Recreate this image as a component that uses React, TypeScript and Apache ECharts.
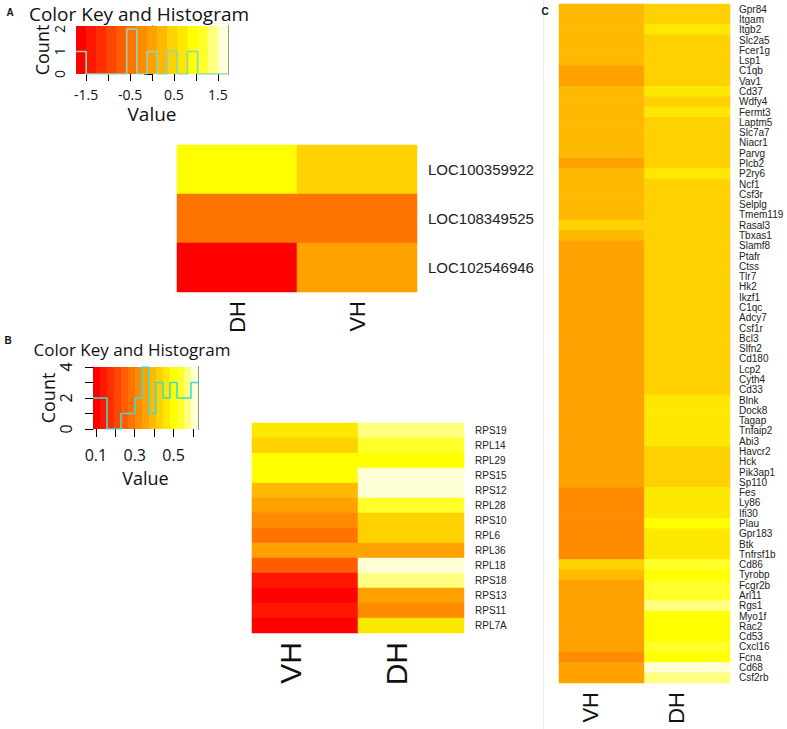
import React, { useEffect, useRef } from "react";
import * as echarts from "echarts";

// 15-step heat colour scale (red -> yellow -> pale)
const HEAT = ["#FF0000", "#FF1700", "#FF2E00", "#FF4600", "#FF5D00", "#FF7400", "#FF8B00", "#FFA200", "#FFB900", "#FFD100", "#FFE800", "#FFFF00", "#FFFF2A", "#FFFF80", "#FFFFD5"];

// Panel A
const aRows = ["LOC100359922", "LOC108349525", "LOC102546946"];
const aCols = ["DH", "VH"];
const aDH = [0.9, -0.45, -1.62];
const aVH = [0.45, -0.47, 0.0];
const aMin = -1.73;
const aMax = 1.73;
const aTicks = [-1.5, -1, -0.5, 0, 0.5, 1, 1.5];
const aTickLabels = [-1.5, -0.5, 0.5, 1.5];
const aCountTicks = [0, 0.5, 1, 1.5, 2];
const aCountLabels = [0, 1, 2];

// Panel B
const bRows = ["RPS19", "RPL14", "RPL29", "RPS15", "RPS12", "RPL28", "RPS10", "RPL6", "RPL36", "RPL18", "RPS18", "RPS13", "RPS11", "RPL7A"];
const bCols = ["VH", "DH"];
const bVH = [0.464, 0.428, 0.5, 0.498, 0.392, 0.355, 0.32, 0.283, 0.358, 0.248, 0.138, 0.095, 0.14, 0.1];
const bDH = [0.572, 0.536, 0.505, 0.61, 0.605, 0.54, 0.43, 0.425, 0.352, 0.615, 0.57, 0.355, 0.32, 0.465];
const bMin = 0.085;
const bMax = 0.626;
const bTicks = [0.1, 0.2, 0.3, 0.4, 0.5, 0.6];
const bTickLabels = [0.1, 0.3, 0.5];
const bCountTicks = [0, 1, 2, 3, 4];
const bCountLabels = [0, 2, 4];

// Panel C
const cRows = ["Gpr84", "Itgam", "Itgb2", "Slc2a5", "Fcer1g", "Lsp1", "C1qb", "Vav1", "Cd37", "Wdfy4", "Fermt3", "Laptm5", "Slc7a7", "Niacr1", "Parvg", "Plcb2", "P2ry6", "Ncf1", "Csf3r", "Selplg", "Tmem119", "Rasal3", "Tbxas1", "Slamf8", "Ptafr", "Ctss", "Tlr7", "Hk2", "Ikzf1", "C1qc", "Adcy7", "Csf1r", "Bcl3", "Slfn2", "Cd180", "Lcp2", "Cyth4", "Cd33", "Blnk", "Dock8", "Tagap", "Tnfaip2", "Abi3", "Havcr2", "Hck", "Pik3ap1", "Sp110", "Fes", "Ly86", "Ifi30", "Plau", "Gpr183", "Btk", "Tnfrsf1b", "Cd86", "Tyrobp", "Fcgr2b", "Arl11", "Rgs1", "Myo1f", "Rac2", "Cd53", "Cxcl16", "Fcna", "Cd68", "Csf2rb"];
const cCols = ["VH", "DH"];
const cVH = [
  0.84, 0.85, 0.84, 0.86, 0.85, 0.84, 0.74, 0.73, 0.85, 0.84, 0.85, 0.84, 0.86, 0.85, 0.84, 0.72, 0.85,
  0.84, 0.85, 0.84, 0.86, 0.93, 0.84, 0.75, 0.74, 0.75, 0.73, 0.74, 0.75, 0.74, 0.76, 0.74, 0.75, 0.74,
  0.75, 0.74, 0.73, 0.75, 0.74, 0.75, 0.74, 0.76, 0.74, 0.75, 0.74, 0.73, 0.75, 0.65, 0.64, 0.65, 0.64,
  0.66, 0.65, 0.64, 0.93, 0.84, 0.75, 0.76, 0.77, 0.74, 0.73, 0.74, 0.75, 0.64, 0.74, 0.75,
];
const cDH = [
  0.94, 0.95, 1.04, 0.94, 0.95, 0.94, 0.95, 0.94, 1.05, 0.94, 1.04, 0.95, 0.94, 0.95, 0.94, 0.95, 1.04,
  0.94, 0.95, 0.94, 0.95, 0.94, 0.95, 0.94, 0.95, 0.94, 0.95, 0.94, 0.95, 0.94, 0.95, 0.94, 0.95, 0.94,
  0.95, 0.94, 0.95, 0.94, 1.05, 1.04, 1.05, 1.04, 1.05, 0.94, 0.95, 0.94, 0.95, 1.04, 1.05, 1.04, 1.15,
  1.04, 1.05, 1.04, 1.25, 1.14, 1.24, 1.25, 1.35, 1.14, 1.15, 1.14, 1.24, 1.15, 1.45, 1.34,
];
const cMin = 0;
const cMax = 1.5;

const NBINS = 15;
const FONT_KEY = "Open Sans";
const FONT_LAB = "Liberation Sans";

function breaks(min: number, max: number) {
  const w = (max - min) / NBINS;
  return Array.from({ length: NBINS + 1 }, (_, i) => min + i * w);
}
function pieces(min: number, max: number) {
  const b = breaks(min, max);
  return HEAT.map((c, i) => {
    const p: any = { color: c };
    if (i > 0) p.gte = b[i];
    if (i < NBINS - 1) p.lt = b[i + 1];
    return p;
  });
}
function histLine(values: number[], min: number, max: number) {
  const b = breaks(min, max);
  const counts = new Array(NBINS).fill(0);
  values.forEach((v) => {
    let k = Math.floor(((v - min) / (max - min)) * NBINS);
    k = Math.max(0, Math.min(NBINS - 1, k));
    counts[k]++;
  });
  const pts = counts.map((c, i) => [b[i], c]);
  pts.push([max, counts[NBINS - 1]]);
  return pts;
}
function bands(min: number, max: number) {
  const b = breaks(min, max);
  return HEAT.map((_, i) => [b[i], b[i + 1], i]);
}
function cells(cols: number[][]) {
  const out: number[][] = [];
  cols.forEach((col, x) => col.forEach((v, y) => out.push([x, y, v])));
  return out;
}
const bandRender = (params: any, api: any) => {
  const p0 = api.coord([api.value(0), 0]);
  const p1 = api.coord([api.value(1), 0]);
  const cs = params.coordSys;
  return {
    type: "rect",
    shape: { x: p0[0], y: cs.y, width: p1[0] - p0[0] + 0.6, height: cs.height },
    style: { fill: HEAT[api.value(2)] },
  };
};

const keyAxisText = { color: "#111", fontFamily: FONT_KEY };

export default function App() {
  const ref = useRef<HTMLDivElement>(null);
  useEffect(() => {
    if (!ref.current) return;
    const chart = echarts.init(ref.current, undefined, { renderer: "svg" });
    const blackLine = { show: true, lineStyle: { color: "#000", width: 1 } };
    const catX = (gridIndex: number, data: string[], size: number, va: string) => ({
      type: "category", gridIndex, data,
      axisLine: { show: false }, axisTick: { show: false }, splitLine: { show: false },
      axisLabel: { rotate: 90, interval: 0, fontSize: size, color: "#111", fontFamily: FONT_LAB, margin: 9, verticalAlign: va },
    });
    const catY = (gridIndex: number, data: string[], size: number, margin: number) => ({
      type: "category", gridIndex, data, inverse: true, position: "right",
      axisLine: { show: false }, axisTick: { show: false }, splitLine: { show: false },
      axisLabel: { interval: 0, fontSize: size, color: "#222", fontFamily: FONT_LAB, margin },
    });
    const rightLine = (gridIndex: number, max: number) => ({
      type: "value", gridIndex, min: 0, max, position: "right",
      axisLine: blackLine, axisTick: { show: false }, axisLabel: { show: false }, splitLine: { show: false },
    });
    const option: any = {
      animation: false,
      backgroundColor: "#fff",
      grid: [
        { left: 76, top: 26, width: 152, height: 48 },
        { left: 177, top: 145, width: 240, height: 147 },
        { left: 93, top: 367, width: 105, height: 62 },
        { left: 252, top: 423, width: 212, height: 210 },
        { left: 559, top: 4, width: 171, height: 679 },
      ],
      xAxis: [
        {
          type: "value", gridIndex: 0, min: aMin, max: aMax,
          axisLine: { show: false }, splitLine: { show: false },
          axisTick: { show: true, customValues: aTicks, length: 7, lineStyle: { color: "#000" } },
          axisLabel: { customValues: aTickLabels, fontSize: 14, margin: 13, ...keyAxisText },
          name: "Value", nameLocation: "middle", nameGap: 30,
          nameTextStyle: { fontSize: 19, ...keyAxisText },
        },
        catX(1, aCols, 22, "middle"),
        {
          type: "value", gridIndex: 2, min: bMin, max: bMax,
          axisLine: { show: false }, splitLine: { show: false },
          axisTick: { show: true, customValues: bTicks, length: 8, lineStyle: { color: "#000" } },
          axisLabel: { customValues: bTickLabels, fontSize: 16, margin: 18, ...keyAxisText },
          name: "Value", nameLocation: "middle", nameGap: 40,
          nameTextStyle: { fontSize: 18, ...keyAxisText },
        },
        catX(3, bCols, 30, "bottom"),
        catX(4, cCols, 22, "bottom"),
      ],
      yAxis: [
        {
          type: "value", gridIndex: 0, min: 0, max: 2.13,
          axisLine: blackLine, splitLine: { show: false },
          axisTick: { show: true, customValues: aCountTicks, length: 8, lineStyle: { color: "#000" } },
          axisLabel: { customValues: aCountLabels, rotate: 90, fontSize: 14, margin: 10, ...keyAxisText },
          name: "Count", nameLocation: "middle", nameGap: 20, nameRotate: 90,
          nameTextStyle: { fontSize: 18, ...keyAxisText },
        },
        rightLine(0, 2.13),
        catY(1, aRows, 15, 11),
        {
          type: "value", gridIndex: 2, min: 0, max: 4,
          axisLine: blackLine, splitLine: { show: false },
          axisTick: { show: true, customValues: bCountTicks, length: 8, lineStyle: { color: "#000" } },
          axisLabel: { customValues: bCountLabels, rotate: 90, fontSize: 16, margin: 19, ...keyAxisText },
          name: "Count", nameLocation: "middle", nameGap: 34, nameRotate: 90,
          nameTextStyle: { fontSize: 18, ...keyAxisText },
        },
        rightLine(2, 4),
        catY(3, bRows, 10, 11),
        catY(4, cRows, 10, 9),
      ],
      visualMap: [
        { type: "piecewise", show: false, seriesIndex: 2, dimension: 2, pieces: pieces(aMin, aMax) },
        { type: "piecewise", show: false, seriesIndex: 5, dimension: 2, pieces: pieces(bMin, bMax) },
        { type: "piecewise", show: false, seriesIndex: 6, dimension: 2, pieces: pieces(cMin, cMax) },
      ],
      series: [
        { type: "custom", xAxisIndex: 0, yAxisIndex: 0, data: bands(aMin, aMax), renderItem: bandRender, z: 1, silent: true },
        {
          type: "line", xAxisIndex: 0, yAxisIndex: 0, step: "end", showSymbol: false, symbol: "none",
          data: histLine([...aDH, ...aVH], aMin, aMax), lineStyle: { color: "#8fd6b8", width: 1.6 }, z: 3, silent: true,
        },
        { type: "heatmap", xAxisIndex: 1, yAxisIndex: 2, data: cells([aDH, aVH]), itemStyle: { borderWidth: 0 } },
        { type: "custom", xAxisIndex: 2, yAxisIndex: 3, data: bands(bMin, bMax), renderItem: bandRender, z: 1, silent: true },
        {
          type: "line", xAxisIndex: 2, yAxisIndex: 3, step: "end", showSymbol: false, symbol: "none",
          data: histLine([...bVH, ...bDH], bMin, bMax), lineStyle: { color: "#3ddcd6", width: 1.6 }, z: 3, silent: true,
        },
        { type: "heatmap", xAxisIndex: 3, yAxisIndex: 5, data: cells([bVH, bDH]), itemStyle: { borderWidth: 0 } },
        { type: "heatmap", xAxisIndex: 4, yAxisIndex: 6, data: cells([cVH, cDH]), itemStyle: { borderWidth: 0 } },
      ],
      graphic: [
        { type: "line", shape: { x1: 543.5, y1: 0, x2: 543.5, y2: 729 }, style: { stroke: "#ececec", lineWidth: 1 }, silent: true },
        { type: "text", x: 10, y: 12, style: { text: "A", font: `bold 10px "${FONT_LAB}"`, fill: "#111", textAlign: "center", textVerticalAlign: "middle" } },
        { type: "text", x: 8, y: 340, style: { text: "B", font: `bold 10px "${FONT_LAB}"`, fill: "#111", textAlign: "center", textVerticalAlign: "middle" } },
        { type: "text", x: 545, y: 11, style: { text: "C", font: `bold 10px "${FONT_LAB}"`, fill: "#111", textAlign: "center", textVerticalAlign: "middle" } },
        { type: "text", x: 139, y: 14, style: { text: "Color Key and Histogram", font: `19px "${FONT_KEY}"`, fill: "#111", textAlign: "center", textVerticalAlign: "middle" } },
        { type: "text", x: 132, y: 349, style: { text: "Color Key and Histogram", font: `17px "${FONT_KEY}"`, fill: "#111", textAlign: "center", textVerticalAlign: "middle" } },
      ],
    };
    chart.setOption(option);
    return () => chart.dispose();
  }, []);
  return <div ref={ref} style={{ position: "absolute", left: 0, top: 0, width: 787, height: 729, background: "#fff" }} />;
}
